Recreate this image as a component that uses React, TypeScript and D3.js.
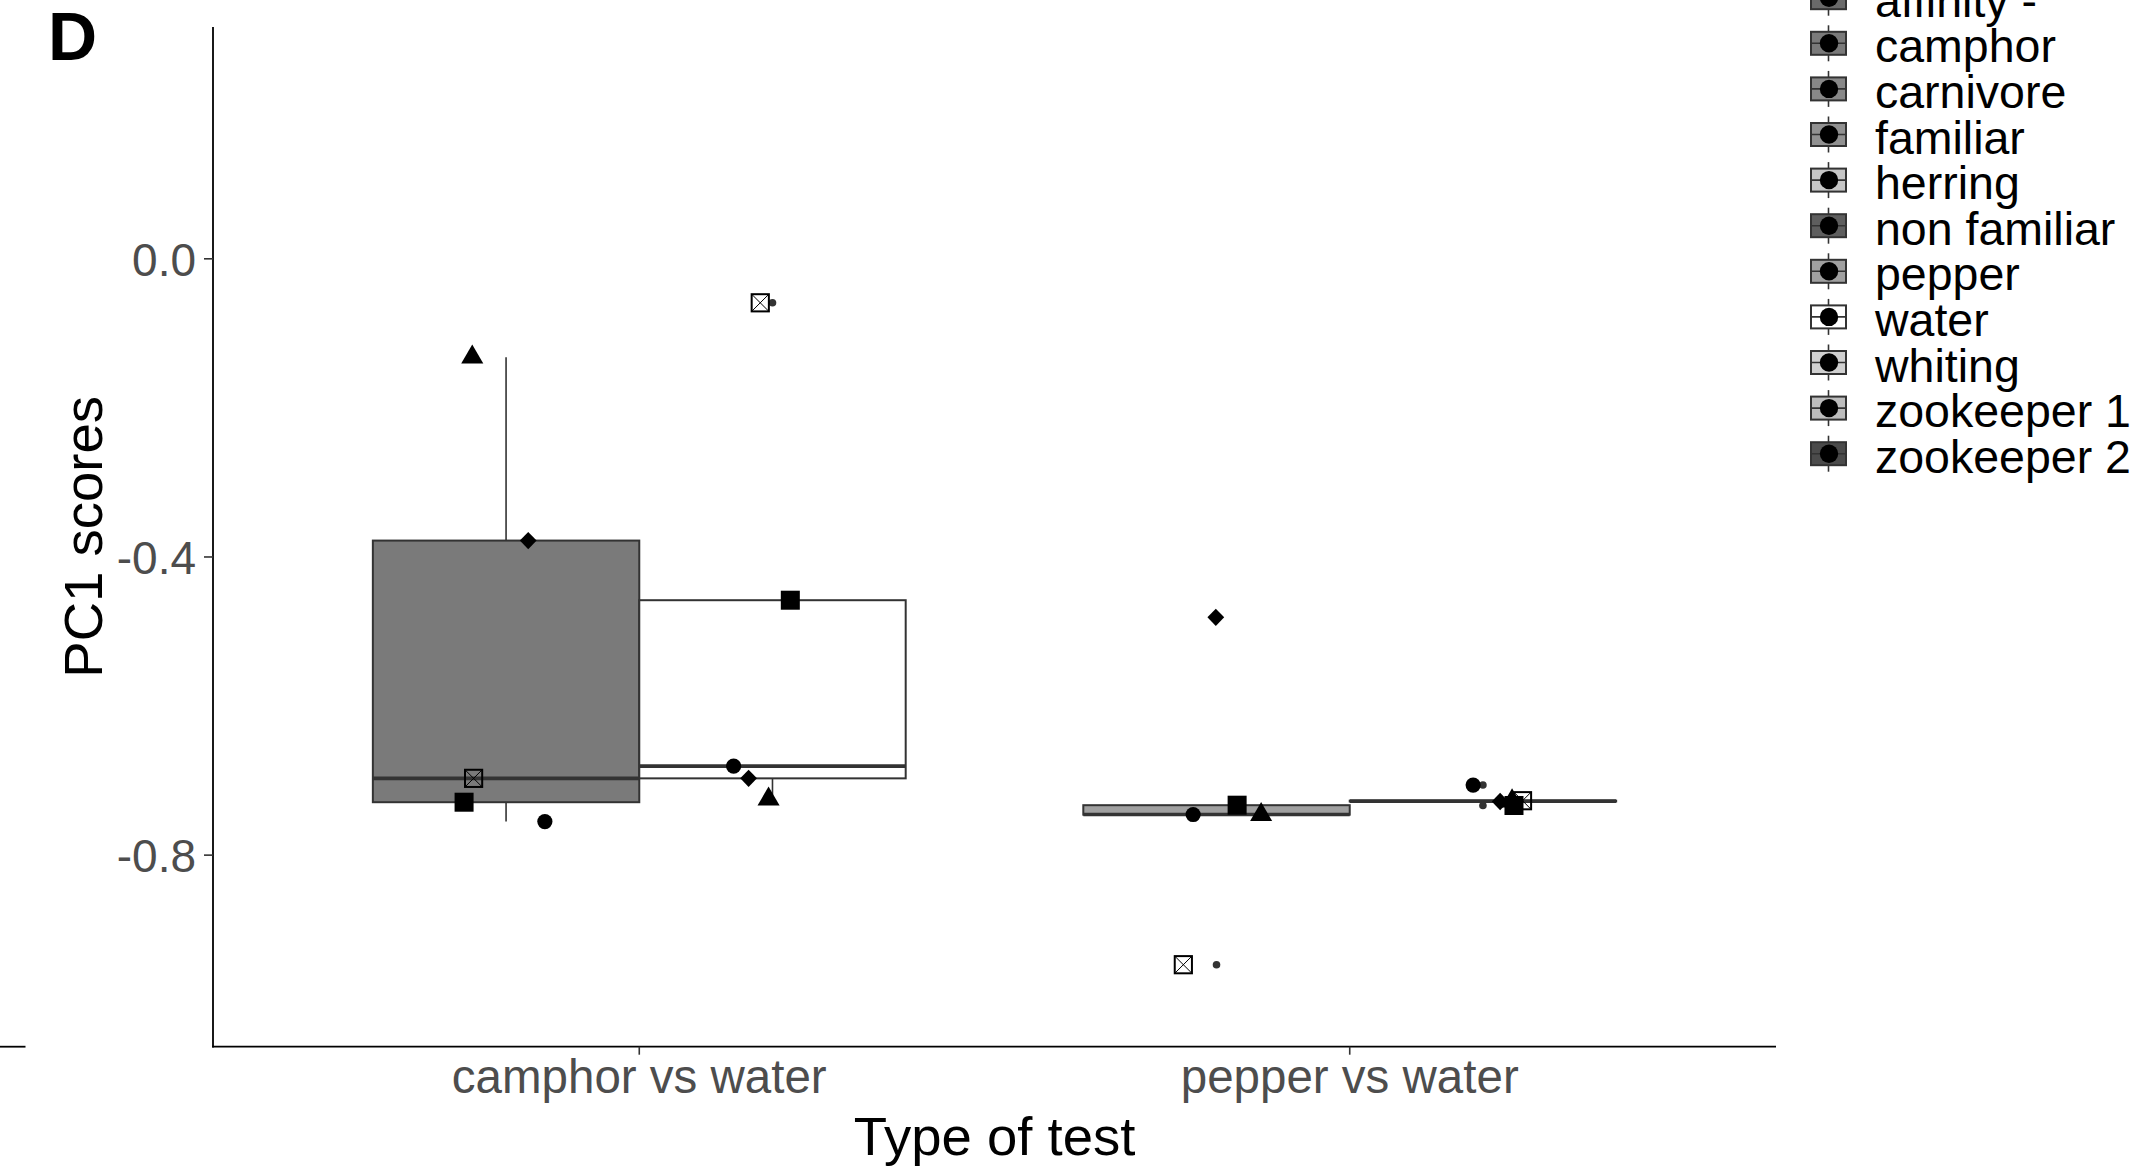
import React from "react";
import * as d3 from "d3";

// ---------- data ----------
const tests = ["camphor vs water", "pepper vs water"];
// fill group per test: [left box, right box]
const testStimuli = [
  ["camphor", "water"],
  ["pepper", "water"],
];
const shapes = ["circle", "square", "triangle", "diamond", "crossSquare"];

// PC1 values per shape (circle, square, triangle, diamond, crossSquare)
const camphorInCamphorTest = [-0.755, -0.729, -0.132, -0.378, -0.697];
const waterInCamphorTest = [-0.6806, -0.458, -0.725, -0.697, -0.059];
const pepperInPepperTest = [-0.7455, -0.733, -0.7457, -0.481, -0.947];
const waterInPepperTest = [-0.706, -0.7334, -0.7275, -0.728, -0.727];

// horizontal jitter (in category units) per shape
const jitterCamphor = [0.0546, -0.0591, -0.0476, 0.0312, -0.0457];
const jitterWaterCamphor = [-0.0547, 0.0251, -0.0055, -0.0336, -0.0172];
const jitterPepper = [-0.0329, 0.029, 0.0628, -0.001, -0.0467];
const jitterWaterPepper = [-0.0138, 0.0437, 0.041, 0.0242, 0.0557];

const groupValues = [
  [camphorInCamphorTest, waterInCamphorTest],
  [pepperInPepperTest, waterInPepperTest],
];
const groupJitter = [
  [jitterCamphor, jitterWaterCamphor],
  [jitterPepper, jitterWaterPepper],
];

const legendLabels = [
  "affinity -",
  "camphor",
  "carnivore",
  "familiar",
  "herring",
  "non familiar",
  "pepper",
  "water",
  "whiting",
  "zookeeper 1",
  "zookeeper 2",
];
const legendFills = [
  "#6a6a6a",
  "#7a7a7a",
  "#888888",
  "#919191",
  "#c6c6c6",
  "#5e5e5e",
  "#a0a0a0",
  "#ffffff",
  "#d0d0d0",
  "#bdbdbd",
  "#4b4b4b",
];
const yTicks = [0.0, -0.4, -0.8];
const yTickLabels = ["0.0", "-0.4", "-0.8"];
const yDomain = [-1.057, 0.311];

// ---------- layout ----------
const W = 2139;
const H = 1170;
const plotLeft = 213;
const plotRight = 1776;
const plotTop = 27;
const plotBottom = 1046.7;
const FONT = "'Liberation Sans', Arial, sans-serif";
const OUTLINE = "#333333";

const fillOf = (name: string) => legendFills[legendLabels.indexOf(name)];

function boxStats(vals: number[]) {
  const s = [...vals].sort((a, b) => a - b);
  const q1 = d3.quantile(s, 0.25)!;
  const med = d3.quantile(s, 0.5)!;
  const q3 = d3.quantile(s, 0.75)!;
  const iqr = q3 - q1;
  const lo = q1 - 1.5 * iqr;
  const hi = q3 + 1.5 * iqr;
  const inside = s.filter((v) => v >= lo && v <= hi);
  return {
    q1,
    med,
    q3,
    wLo: d3.min(inside)!,
    wHi: d3.max(inside)!,
    outliers: s.filter((v) => v < lo || v > hi),
  };
}

function Shape({ type, cx, cy }: { type: string; cx: number; cy: number }) {
  if (type === "circle") return <circle cx={cx} cy={cy} r={7.6} fill="#000" />;
  if (type === "square")
    return <rect x={cx - 9.5} y={cy - 9.5} width={19} height={19} fill="#000" />;
  if (type === "triangle") {
    const s = 8.2;
    const p = [
      [cx, cy - 1.555 * s],
      [cx + 1.347 * s, cy + 0.778 * s],
      [cx - 1.347 * s, cy + 0.778 * s],
    ];
    return <path d={d3.line()(p as [number, number][])! + "Z"} fill="#000" />;
  }
  if (type === "diamond") {
    const p = [
      [cx, cy - 8.7],
      [cx + 8.4, cy],
      [cx, cy + 8.7],
      [cx - 8.4, cy],
    ];
    return <path d={d3.line()(p as [number, number][])! + "Z"} fill="#000" />;
  }
  // crossed square (pch 7)
  const h = 8.6;
  return (
    <g fill="none" stroke="#000">
      <rect x={cx - h} y={cy - h} width={2 * h} height={2 * h} strokeWidth={2} />
      <line x1={cx - h} y1={cy - h} x2={cx + h} y2={cy + h} strokeWidth={1} />
      <line x1={cx - h} y1={cy + h} x2={cx + h} y2={cy - h} strokeWidth={1} />
    </g>
  );
}

export default function App() {
  const x = d3.scaleLinear().domain([0.4, 2.6]).range([plotLeft, plotRight]);
  const y = d3.scaleLinear().domain(yDomain).range([plotBottom, plotTop]);
  const boxW = 0.375;
  const xTicks = tests.map((_, i) => i + 1);

  const boxes: React.ReactNode[] = [];
  const points: React.ReactNode[] = [];
  tests.forEach((t, ti) => {
    testStimuli[ti].forEach((stim, si) => {
      const vals = groupValues[ti][si];
      const jit = groupJitter[ti][si];
      const center = ti + 1 + (si === 0 ? -boxW / 2 : boxW / 2);
      const xl = x(center - boxW / 2);
      const xr = x(center + boxW / 2);
      const xc = x(center);
      const st = boxStats(vals);
      boxes.push(
        <g key={`b${ti}${si}`}>
          <line x1={xc} x2={xc} y1={y(st.q3)} y2={y(st.wHi)} stroke={OUTLINE} strokeWidth={1.6} />
          <line x1={xc} x2={xc} y1={y(st.q1)} y2={y(st.wLo)} stroke={OUTLINE} strokeWidth={1.6} />
          <rect
            x={xl}
            y={y(st.q3)}
            width={xr - xl}
            height={Math.max(0.01, y(st.q1) - y(st.q3))}
            fill={fillOf(stim)}
            stroke={OUTLINE}
            strokeWidth={2}
          />
          <line x1={xl} x2={xr} y1={y(st.med)} y2={y(st.med)} stroke={OUTLINE} strokeWidth={3.6} />
          {st.outliers.map((o, k) => (
            <circle key={k} cx={xc} cy={y(o)} r={3.8} fill={OUTLINE} />
          ))}
        </g>
      );
      vals.forEach((v, k) => {
        points.push(
          <Shape key={`p${ti}${si}${k}`} type={shapes[k]} cx={x(center + jit[k])} cy={y(v)} />
        );
      });
    });
  });

  const legendX = 1811;
  const legendRow0 = -2.3;
  const legendStep = 45.6;

  return (
    <div style={{ position: "absolute", left: 0, top: 0, width: W, height: H, background: "#fff" }}>
      <svg width={W} height={H} viewBox={`0 0 ${W} ${H}`} style={{ display: "block" }}>
        <rect x={0} y={0} width={W} height={H} fill="#fff" />
        {/* panel letter */}
        <text x={48} y={60} fontFamily={FONT} fontWeight="bold" fontSize={68} fill="#000">
          D
        </text>
        {/* fragment of neighbouring panel axis */}
        <line x1={0} x2={25.5} y1={plotBottom} y2={plotBottom} stroke="#000" strokeWidth={1.8} />

        {boxes}
        {points}

        {/* axes */}
        <line x1={plotLeft} x2={plotLeft} y1={plotTop} y2={plotBottom + 0.9} stroke="#000" strokeWidth={1.8} />
        <line x1={plotLeft - 0.9} x2={plotRight} y1={plotBottom} y2={plotBottom} stroke="#000" strokeWidth={1.8} />
        {yTicks.map((t, i) => (
          <g key={t}>
            <line x1={plotLeft - 9} x2={plotLeft} y1={y(t)} y2={y(t)} stroke="#333" strokeWidth={1.6} />
            <text
              x={plotLeft - 17}
              y={y(t) + 17}
              textAnchor="end"
              fontFamily={FONT}
              fontSize={46}
              fill="#4d4d4d"
            >
              {yTickLabels[i]}
            </text>
          </g>
        ))}
        {xTicks.map((t, i) => (
          <g key={t}>
            <line x1={x(t)} x2={x(t)} y1={plotBottom} y2={plotBottom + 8} stroke="#333" strokeWidth={1.6} />
            <text x={x(t)} y={1093} textAnchor="middle" fontFamily={FONT} fontSize={47.5} fill="#4d4d4d">
              {tests[i]}
            </text>
          </g>
        ))}
        <text
          x={(plotLeft + plotRight) / 2}
          y={1155}
          textAnchor="middle"
          fontFamily={FONT}
          fontSize={54.5}
          fill="#000"
        >
          Type of test
        </text>
        <text
          transform={`translate(102, ${(plotTop + plotBottom) / 2}) rotate(-90)`}
          textAnchor="middle"
          fontFamily={FONT}
          fontSize={54.5}
          fill="#000"
        >
          PC1 scores
        </text>

        {/* legend */}
        {legendLabels.map((lab, i) => {
          const cy = legendRow0 + i * legendStep;
          return (
            <g key={lab}>
              <line x1={legendX + 17.5} x2={legendX + 17.5} y1={cy - 18} y2={cy + 18} stroke={OUTLINE} strokeWidth={1.6} />
              <rect x={legendX} y={cy - 11.5} width={35} height={23} fill={legendFills[i]} stroke={OUTLINE} strokeWidth={2} />
              <line x1={legendX} x2={legendX + 35} y1={cy} y2={cy} stroke={OUTLINE} strokeWidth={1.6} />
              <circle cx={legendX + 18} cy={cy} r={9.2} fill="#000" />
              <text x={1875} y={cy + 19} fontFamily={FONT} fontSize={46.5} fill="#000">
                {lab}
              </text>
            </g>
          );
        })}
      </svg>
    </div>
  );
}
